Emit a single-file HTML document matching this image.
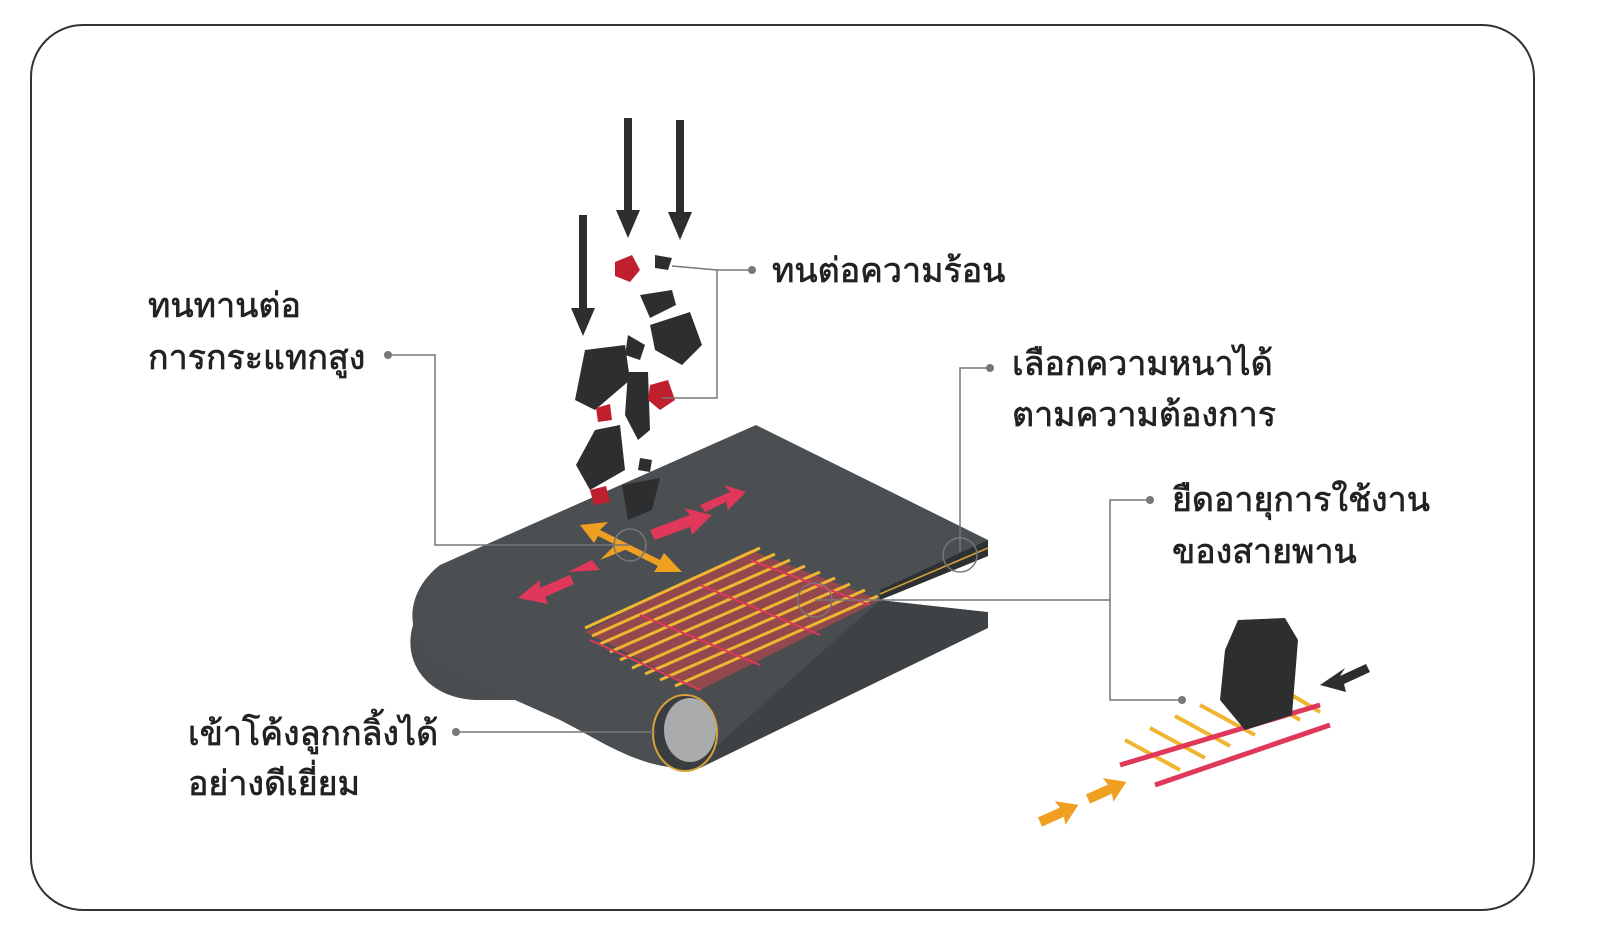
<!DOCTYPE html>
<html><head><meta charset="utf-8">
<style>
html,body{margin:0;padding:0;background:#fff;}
svg{display:block;}
text{font-family:"Liberation Sans","DejaVu Sans",sans-serif;fill:#222;font-size:34px;stroke:#222;stroke-width:0.7;}
</style></head>
<body>
<svg width="1600" height="952" viewBox="0 0 1600 952" xmlns="http://www.w3.org/2000/svg">
<rect x="31" y="25" width="1503" height="885" rx="52" fill="#fff" stroke="#333" stroke-width="2"/>

<!-- lower belt sheet -->
<path d="M880,600 L988,612 L988,628 L700,768 L686,770 Z" fill="#3f4244"/>
<path d="M420,610 C395,650 420,700 480,700 L686,700 L690,770 L880,600 Z" fill="#4a4d4f"/>
<!-- top belt sheet -->
<path d="M440,565 L756,425 L988,540 L988,556 L880,600 L700,690 L690,768 C640,770 600,740 560,720 L470,680 C405,660 395,600 440,565 Z" fill="#4b4f51"/>
<path d="M988,540 L988,556 L880,600 L880,590 Z" fill="#2e3133"/>
<path d="M880,600 L988,612 L988,560 Z" fill="#fff" opacity="0.9"/>
<path d="M880,594 L988,548" stroke="#d9a23a" stroke-width="1.5"/>
<!-- roller -->
<ellipse cx="685" cy="733" rx="32" ry="38" fill="#3a3d3f" stroke="#d9a23a" stroke-width="2"/>
<ellipse cx="690" cy="730" rx="26" ry="32" fill="#a9abad"/>
<!-- grid -->
<g stroke-width="3">
<path d="M585,632 L750,550 L880,600 L700,690 Z" fill="#c2444a" opacity="0.6"/>
<g stroke="#f0b531">
<line x1="585" y1="628" x2="760" y2="548"/><line x1="592" y1="636" x2="775" y2="554"/>
<line x1="600" y1="644" x2="790" y2="560"/><line x1="610" y1="652" x2="805" y2="566"/>
<line x1="620" y1="660" x2="820" y2="572"/><line x1="632" y1="668" x2="835" y2="578"/>
<line x1="645" y1="674" x2="850" y2="584"/><line x1="660" y1="680" x2="865" y2="590"/>
<line x1="675" y1="686" x2="878" y2="596"/>
</g>
<g stroke="#e0385a" stroke-width="2">
<line x1="590" y1="640" x2="700" y2="690"/><line x1="640" y1="615" x2="760" y2="665"/>
<line x1="700" y1="585" x2="820" y2="635"/><line x1="750" y1="560" x2="870" y2="605"/>
</g>
</g>
<!-- red arrows on belt -->
<g fill="#e0385a">
<polygon points="518,598 540,580 540,588 570,575 574,584 545,597 548,604"/>
<polygon points="568,572 592,560 600,570"/>
<polygon points="650,530 690,515 684,508 712,515 692,535 690,527 655,540"/>
<polygon points="700,505 730,492 724,485 746,492 728,510 726,502 705,512"/>
</g>
<g fill="#f0a020">
<polygon points="580,525 608,522 600,530 660,560 664,553 682,572 654,572 658,566 598,536 594,543"/>
<polygon points="600,560 620,540 630,548"/>
</g>
<!-- rocks -->
<g fill="#2c2e30">
<polygon points="640,295 672,290 676,305 650,318"/>
<polygon points="650,325 690,312 702,345 682,365 655,350"/>
<polygon points="585,350 625,345 630,380 595,410 575,400"/>
<polygon points="628,372 648,372 650,430 638,440 625,415"/>
<polygon points="595,430 620,425 625,470 590,490 576,465"/>
<polygon points="622,485 660,478 652,510 628,520"/>
<polygon points="628,335 645,345 640,360 625,355"/>
<polygon points="655,255 672,258 668,270 655,268"/>
<polygon points="640,458 652,460 650,472 638,470"/>
</g>
<g fill="#c0202e">
<polygon points="615,262 632,255 640,270 630,282 615,276"/>
<polygon points="650,385 668,380 675,400 660,410 648,400"/>
<polygon points="596,408 610,404 612,420 598,422"/>
<polygon points="590,490 606,486 610,502 594,505"/>
</g>
<!-- black down arrows -->
<g fill="#2c2e30">
<rect x="624" y="118" width="8" height="95"/><polygon points="616,210 640,210 628,238"/>
<rect x="676" y="120" width="8" height="95"/><polygon points="668,212 692,212 680,240"/>
<rect x="579" y="215" width="8" height="95"/><polygon points="571,308 595,308 583,336"/>
</g>
<!-- right inset -->
<g stroke-width="4">
<g stroke="#f0b531">
<line x1="1125" y1="740" x2="1180" y2="770"/><line x1="1150" y1="728" x2="1205" y2="758"/>
<line x1="1175" y1="716" x2="1230" y2="746"/><line x1="1200" y1="705" x2="1255" y2="735"/>
<line x1="1250" y1="690" x2="1300" y2="720"/><line x1="1270" y1="682" x2="1320" y2="712"/>
</g>
<line x1="1120" y1="765" x2="1320" y2="705" stroke="#e0385a" stroke-width="5"/>
<line x1="1155" y1="785" x2="1330" y2="725" stroke="#e0385a" stroke-width="5"/>
</g>
<polygon points="1238,620 1285,618 1298,640 1292,715 1245,730 1220,700 1225,650" fill="#2c2e30"/>
<polygon points="1320,685 1345,668 1340,676 1366,664 1370,672 1344,684 1346,692" fill="#2c2e30"/>
<g fill="#f0a020">
<polygon transform="translate(1040,822) rotate(-24)" points="0,-5 24,-5 22,-13 42,0 22,13 24,5 0,5"/>
<polygon transform="translate(1088,799) rotate(-24)" points="0,-5 24,-5 22,-13 42,0 22,13 24,5 0,5"/>
</g>
<!-- leader lines -->
<g stroke="#777" stroke-width="1.5" fill="none">
<polyline points="672,266 717,270 752,270"/>
<polyline points="662,398 717,398 717,270"/>
<polyline points="388,355 435,355 435,545 630,545"/>
<polyline points="990,368 960,368 960,552"/>
<polyline points="1150,500 1110,500 1110,700 1182,700"/>
<polyline points="815,600 1110,600"/>
<polyline points="456,732 655,732"/>
<circle cx="630" cy="545" r="16"/><circle cx="960" cy="555" r="17"/><circle cx="815" cy="600" r="17"/>
</g>
<g fill="#777">
<circle cx="752" cy="270" r="4"/><circle cx="388" cy="355" r="4"/><circle cx="990" cy="368" r="4"/>
<circle cx="1150" cy="500" r="4"/><circle cx="456" cy="732" r="4"/><circle cx="1182" cy="700" r="4"/>
</g>
<!-- labels -->
<text x="772" y="282">ทนต่อความร้อน</text>
<text x="148" y="317">ทนทานต่อ</text>
<text x="148" y="369">การกระแทกสูง</text>
<text x="1012" y="375">เลือกความหนาได้</text>
<text x="1012" y="426">ตามความต้องการ</text>
<text x="1172" y="511">ยืดอายุการใช้งาน</text>
<text x="1172" y="563">ของสายพาน</text>
<text x="188" y="745">เข้าโค้งลูกกลิ้งได้</text>
<text x="188" y="795">อย่างดีเยี่ยม</text>
</svg>
</body></html>
